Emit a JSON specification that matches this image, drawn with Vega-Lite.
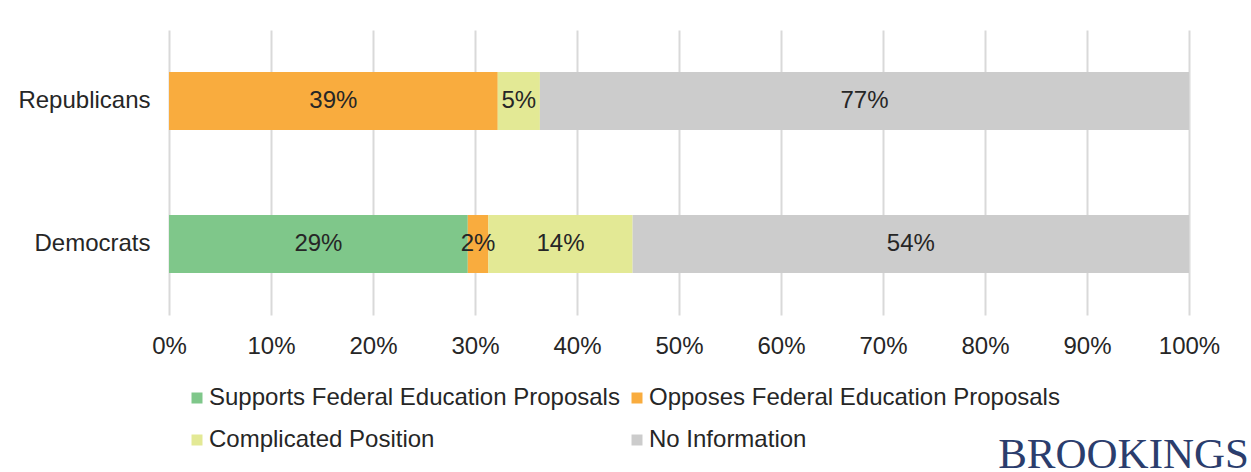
{
  "$schema": "https://vega.github.io/schema/vega-lite/v6.json",
  "autosize": "none",
  "width": 1020,
  "height": 285,
  "padding": {"left": 169, "top": 30, "right": 62, "bottom": 157},
  "background": "white",
  "config": {
    "view": {"stroke": null},
    "font": "Liberation Sans"
  },
  "title": {
    "text": "BROOKINGS",
    "orient": "bottom",
    "anchor": "end",
    "frame": "group",
    "font": "Liberation Serif",
    "fontSize": 43,
    "fontWeight": "normal",
    "color": "#2b3d6d",
    "offset": -18,
    "dx": 60
  },
  "data": {
    "values": [
      {"party": "Republicans", "position": "Opposes Federal Education Proposals", "value": 39, "label": "39%", "o": 2},
      {"party": "Republicans", "position": "Complicated Position", "value": 5, "label": "5%", "o": 3},
      {"party": "Republicans", "position": "No Information", "value": 77, "label": "77%", "o": 4},
      {"party": "Democrats", "position": "Supports Federal Education Proposals", "value": 29, "label": "29%", "o": 1},
      {"party": "Democrats", "position": "Opposes Federal Education Proposals", "value": 2, "label": "2%", "o": 2},
      {"party": "Democrats", "position": "Complicated Position", "value": 14, "label": "14%", "o": 3},
      {"party": "Democrats", "position": "No Information", "value": 54, "label": "54%", "o": 4}
    ]
  },
  "encoding": {
    "y": {
      "field": "party",
      "type": "nominal",
      "sort": ["Republicans", "Democrats"],
      "scale": {"paddingInner": 0.594, "paddingOuter": 0.293},
      "axis": {
        "title": null,
        "domain": false,
        "ticks": false,
        "labelPadding": 19,
        "labelFontSize": 24,
        "labelColor": "#262626",
        "labelFont": "Liberation Sans"
      }
    }
  },
  "layer": [
    {
      "mark": {"type": "bar"},
      "encoding": {
        "x": {
          "field": "value",
          "type": "quantitative",
          "stack": "normalize",
          "scale": {"domain": [0, 1]},
          "axis": {
            "title": null,
            "format": ".0%",
            "values": [0, 0.1, 0.2, 0.3, 0.4, 0.5, 0.6, 0.7, 0.8, 0.9, 1],
            "domain": false,
            "ticks": false,
            "grid": true,
            "gridColor": "#d9d9d9",
            "gridWidth": 2,
            "labelFlush": false,
            "labelOverlap": false,
            "labelBound": false,
            "labelPadding": 19,
            "labelFontSize": 24,
            "labelColor": "#262626",
            "labelFont": "Liberation Sans"
          }
        },
        "order": {"field": "o", "type": "quantitative"},
        "color": {
          "field": "position",
          "type": "nominal",
          "scale": {
            "domain": ["Supports Federal Education Proposals", "Opposes Federal Education Proposals", "Complicated Position", "No Information"],
            "range": ["#7fc78a", "#f9ac3e", "#e3e995", "#cccccc"]
          },
          "legend": {
            "title": null,
            "orient": "none",
            "legendX": 16,
            "legendY": 356,
            "columns": 2,
            "values": ["Supports Federal Education Proposals", "Complicated Position", "Opposes Federal Education Proposals", "No Information"],
            "columnPadding": 5,
            "rowPadding": 18,
            "symbolType": "square",
            "symbolSize": 121,
            "symbolStrokeWidth": 0,
            "labelOffset": 0,
            "labelFontSize": 24,
            "labelColor": "#262626",
            "labelFont": "Liberation Sans",
            "labelLimit": 600
          }
        }
      }
    },
    {
      "mark": {"type": "text", "fontSize": 24, "color": "#262626", "font": "Liberation Sans"},
      "encoding": {
        "x": {"field": "value", "type": "quantitative", "stack": "normalize", "bandPosition": 0.5},
        "order": {"field": "o", "type": "quantitative"},
        "text": {"field": "label", "type": "nominal"},
        "detail": {"field": "position", "type": "nominal"}
      }
    }
  ]
}
